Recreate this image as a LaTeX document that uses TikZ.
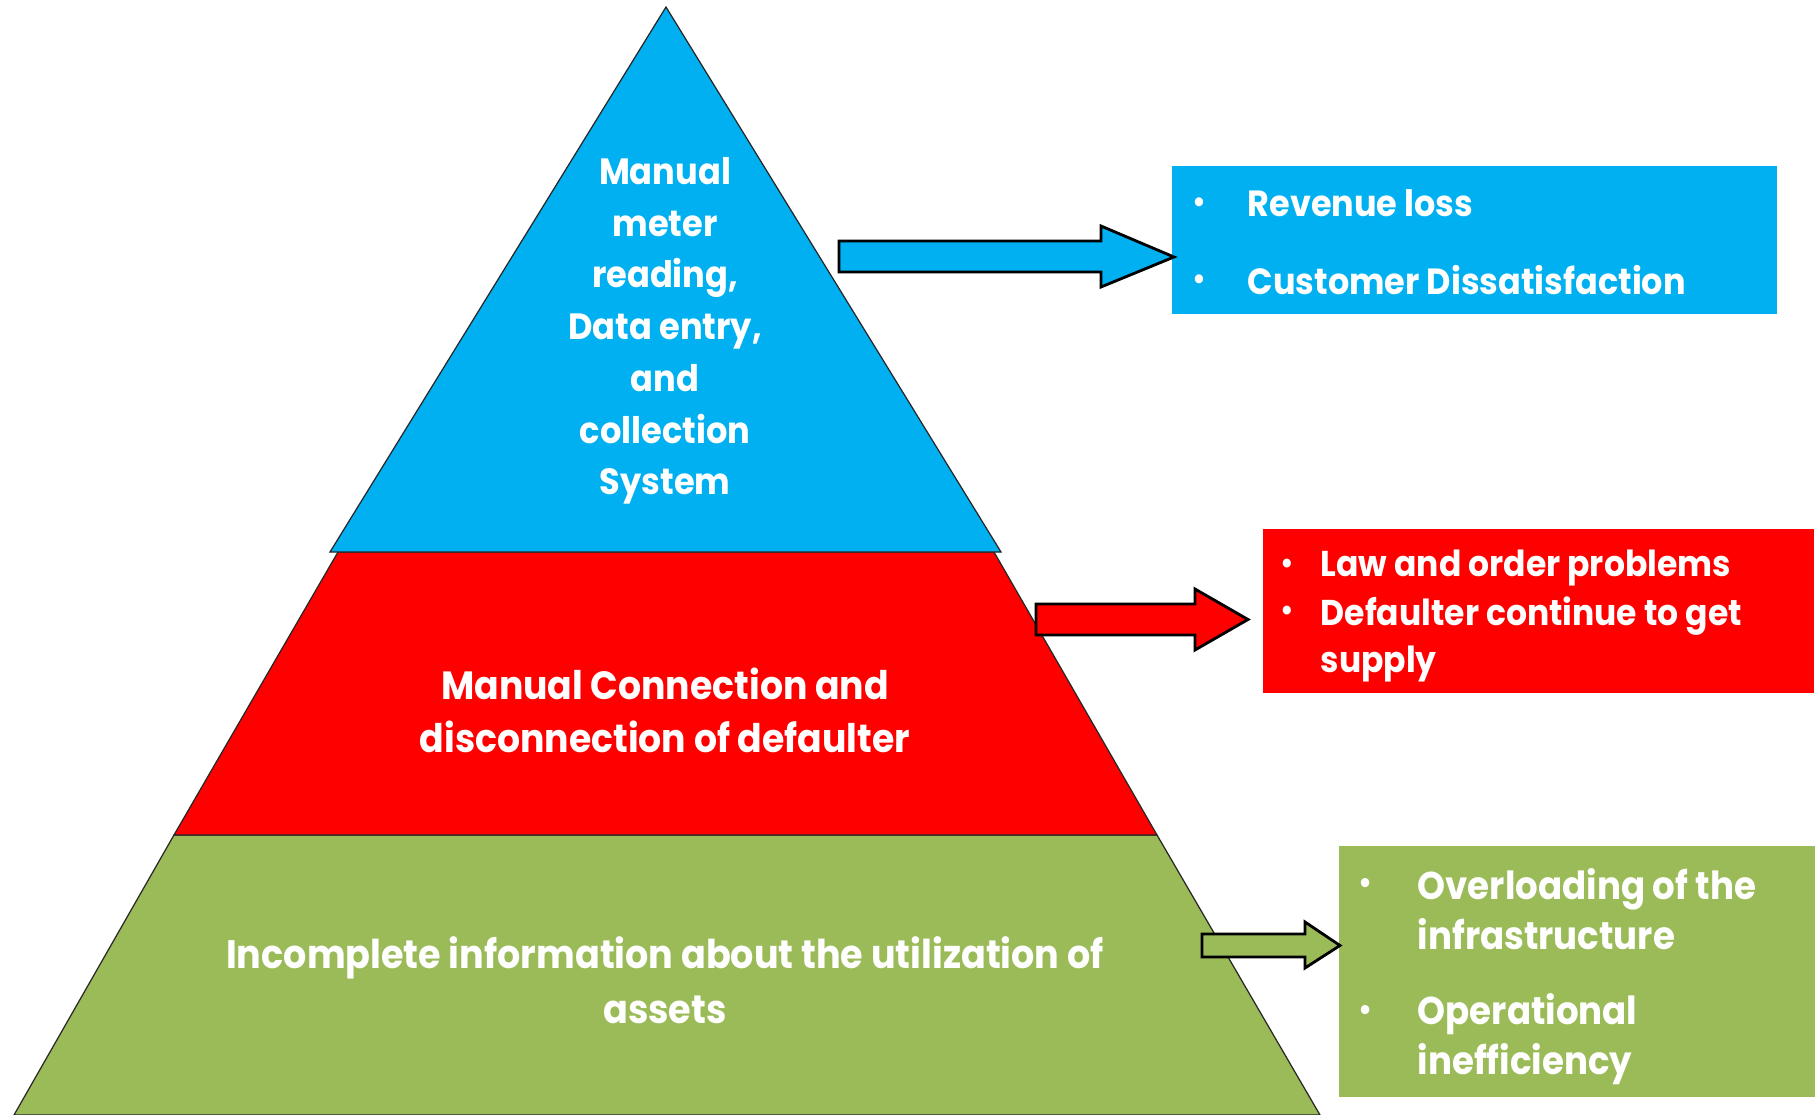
\documentclass[tikz,border=0pt]{standalone}
\usepackage{fontspec}
\setmainfont{Poppins}[FakeStretch=0.92]
\usetikzlibrary{positioning}

\definecolor{topblue}{HTML}{00B0F0}
\definecolor{midred}{HTML}{FF0000}
\definecolor{basegreen}{HTML}{9BBB59}

\begin{document}
\begin{tikzpicture}[x=0.01cm,y=-0.01cm,
  layer/.style={draw=black!85,line width=0.35pt},
  blk/.style={draw=black,line width=0.8pt},
  box/.style={anchor=north west,inner sep=0pt,outer sep=0pt},
  lbl/.style={text=white,align=center,inner sep=0pt},
  item/.style={text=white,align=left,anchor=west,inner sep=0pt},
  dot/.style={text=white,inner sep=0pt}]
  \useasboundingbox (0,0) rectangle (1820,1115);

  % pyramid, bottom layer first
  \draw[layer,fill=basegreen] (174,835) -- (1157,835) -- (1320,1115) -- (14,1115) -- cycle;
  \draw[layer,fill=midred] (338,552) -- (994,552) -- (1157,835) -- (174,835) -- cycle;
  \draw[layer,fill=topblue] (666,7) -- (1001,552) -- (330,552) -- cycle;

  \node[lbl,font=\bfseries\fontsize{10.4}{14.7}\selectfont] (topText) at (665,331)
    {Manual\\meter\\reading,\\Data entry,\\and\\collection\\System};
  \node[lbl,font=\bfseries\fontsize{11.2}{15.1}\selectfont] (midText) at (665,710)
    {Manual Connection and\\disconnection of defaulter};
  \node[lbl,font=\bfseries\fontsize{11.3}{15.6}\selectfont] (baseText) at (665,980)
    {Incomplete information about the utilization of\\assets};

  % effect boxes
  \node[box,fill=topblue,minimum width=6.05cm,minimum height=1.48cm] (topBox) at (1172,166) {};
  \node[box,fill=midred,minimum width=5.51cm,minimum height=1.64cm] (midBox) at (1263,529) {};
  \node[box,fill=basegreen,minimum width=4.76cm,minimum height=2.51cm] (baseBox) at (1339,846) {};

  % block arrows
  \draw[blk,fill=topblue] (839,241) -- (1101,241) -- (1101,226) -- (1174,257) -- (1101,287) -- (1101,272) -- (839,272) -- cycle;
  \draw[blk,fill=midred] (1036,604) -- (1195,604) -- (1195,589) -- (1248,619.5) -- (1195,650) -- (1195,635) -- (1036,635) -- cycle;
  \draw[blk,fill=basegreen] (1202,934) -- (1305,934) -- (1305,922) -- (1340,945.5) -- (1305,968) -- (1305,957) -- (1202,957) -- cycle;

  % bullets
  \node[dot,font=\fontsize{10.4}{12}\selectfont] (d1) at (1199.5,206) {\textbullet};
  \node[item,font=\bfseries\fontsize{10.35}{12}\selectfont] (i1) at (1247,203) {Revenue loss};
  \node[dot,font=\fontsize{10.4}{12}\selectfont] (d2) at (1199.5,283) {\textbullet};
  \node[item,font=\bfseries\fontsize{10.35}{12}\selectfont] (i2) at (1247,280) {Customer Dissatisfaction};

  \node[dot,font=\fontsize{10.2}{12}\selectfont] (d3) at (1287,567) {\textbullet};
  \node[item,font=\bfseries\fontsize{10.2}{13.5}\selectfont] (i3) at (1320,567.5) {Law and order problems};
  \node[dot,font=\fontsize{10.2}{12}\selectfont] (d4) at (1287,614) {\textbullet};
  \node[item,font=\bfseries\fontsize{10.2}{13.5}\selectfont] (i4) at (1320,639.5) {Defaulter continue to get\\supply};

  \node[dot,font=\fontsize{10.6}{12}\selectfont] (d5) at (1366,887) {\textbullet};
  \node[item,font=\bfseries\fontsize{11}{14.2}\selectfont] (i5) at (1417,909) {Overloading of the\\infrastructure};
  \node[dot,font=\fontsize{10.6}{12}\selectfont] (d6) at (1366,1014) {\textbullet};
  \node[item,font=\bfseries\fontsize{11}{14.2}\selectfont] (i6) at (1417,1039) {Operational\\inefficiency};
\end{tikzpicture}
\end{document}
